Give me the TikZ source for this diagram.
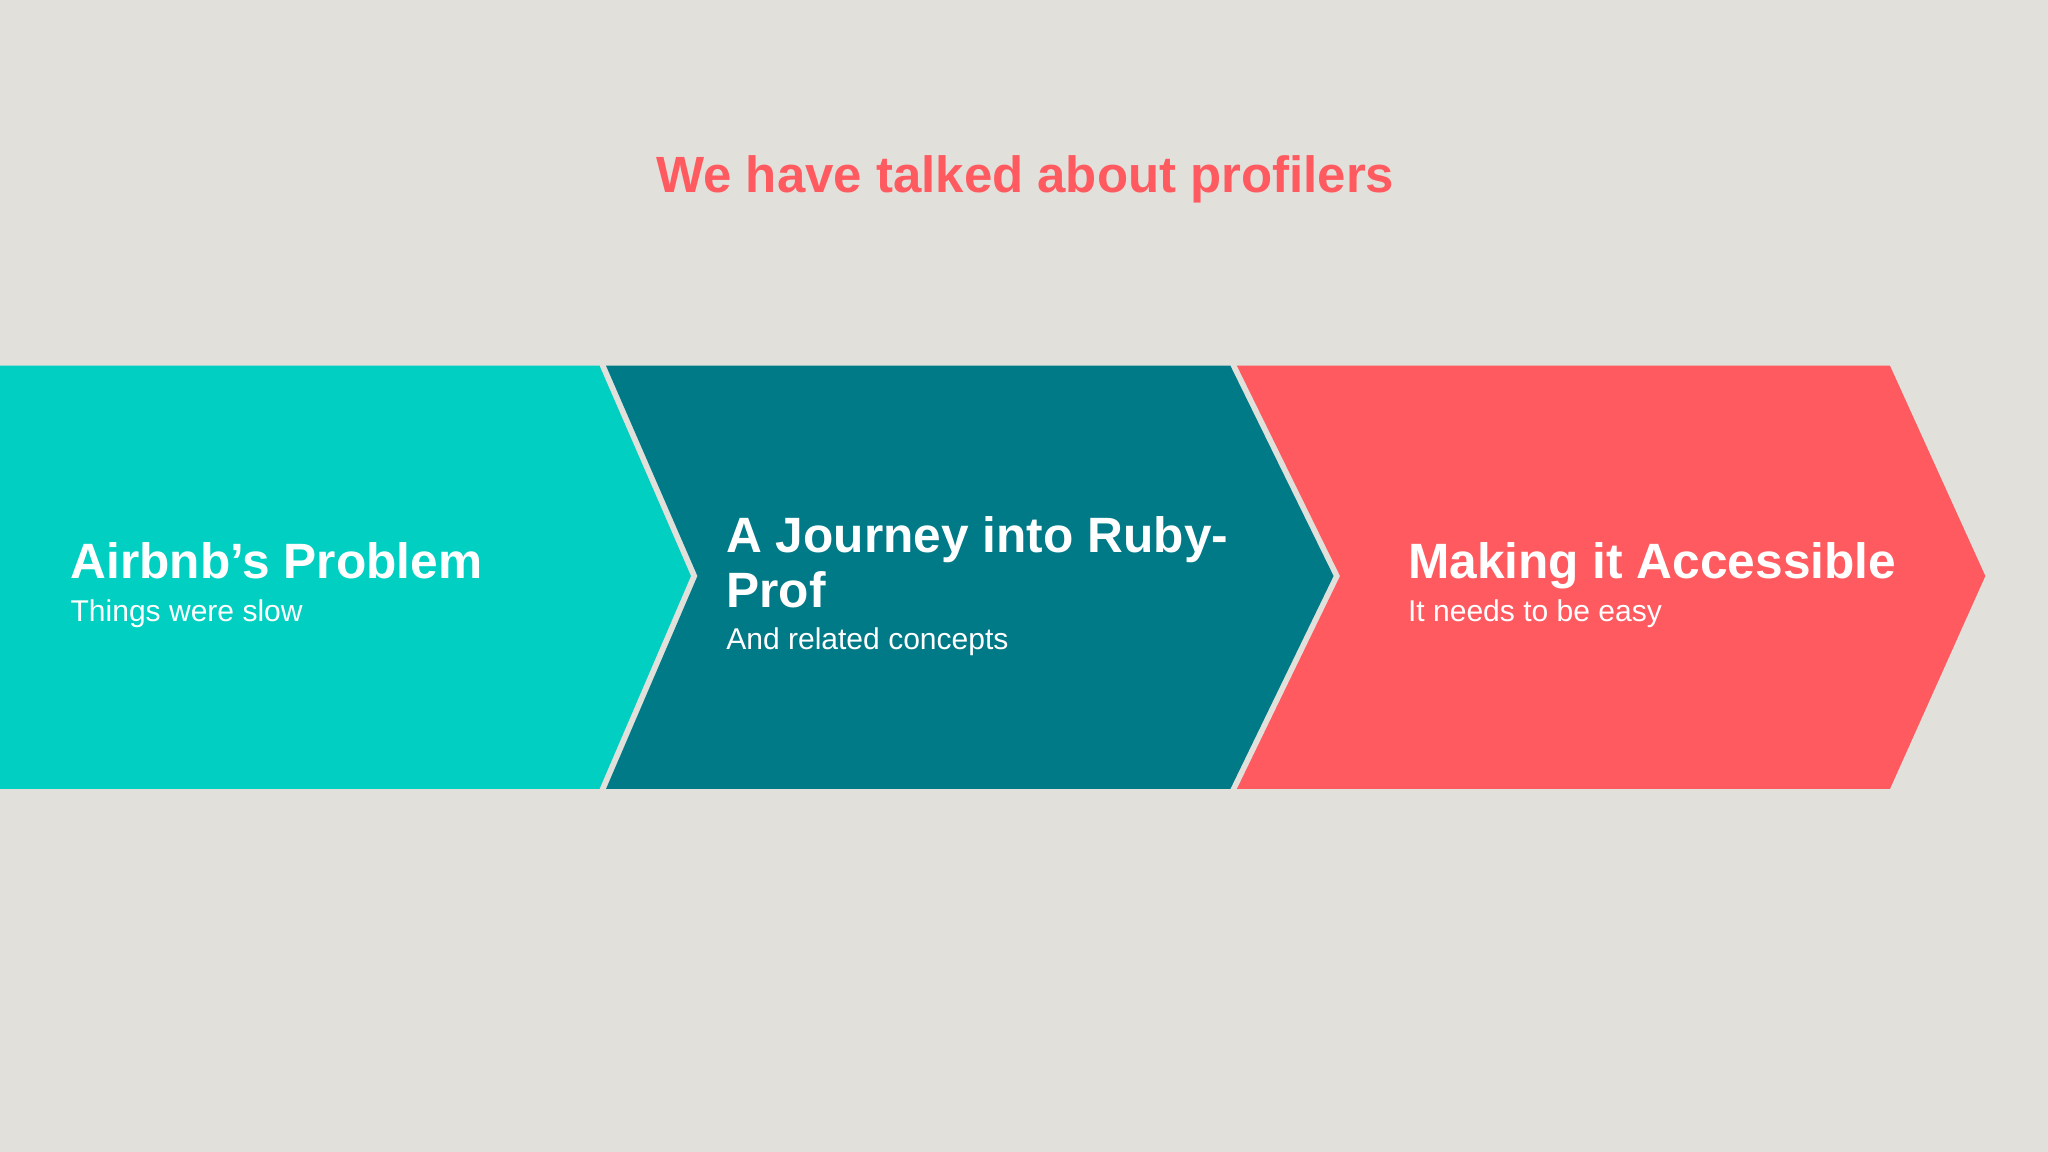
\documentclass[tikz,border=0pt]{standalone}
\usepackage{fontspec}
\setmainfont{Liberation Sans}
\definecolor{bgray}{HTML}{E1E0DA}
\definecolor{aqua}{HTML}{00CFC1}
\definecolor{deepteal}{HTML}{007A87}
\definecolor{coral}{HTML}{FF5A5F}
\tikzset{
  head/.style={anchor=base west, text=white, font=\bfseries\fontsize{19}{21}\selectfont},
  sub/.style={anchor=base west, text=white, font=\fontsize{11.5}{13}\selectfont},
}
\begin{document}
\begin{tikzpicture}[x=0.5pt,y=-0.5pt]
\fill[bgray] (0,0) rectangle (1568,882);
\node[text=coral, font=\bfseries\fontsize{19.5}{22}\selectfont] (title) at (785,137) {We have talked about profilers};

\fill[aqua] (0,280) -- (459,280) -- (529,441) -- (459,604) -- (0,604) -- cycle;
\fill[deepteal] (464,280) -- (942,280) -- (1021,441) -- (942,604) -- (464,604) -- (534,441) -- cycle;
\fill[coral] (947,280) -- (1447,280) -- (1520,441) -- (1447,604) -- (947,604) -- (1026,441) -- cycle;

\node[head] (p1) at (47,443) {Airbnb’s Problem};
\node[sub] (s1) at (47,476) {Things were slow};
\node[head] (p2) at (549,423) {A Journey into Ruby-};
\node[head] (p2b) at (549,465) {Prof};
\node[sub] (s2) at (549,497) {And related concepts};
\node[head] (p3) at (1071,443) {Making it Accessible};
\node[sub] (s3) at (1071,476) {It needs to be easy};
\end{tikzpicture}
\end{document}
